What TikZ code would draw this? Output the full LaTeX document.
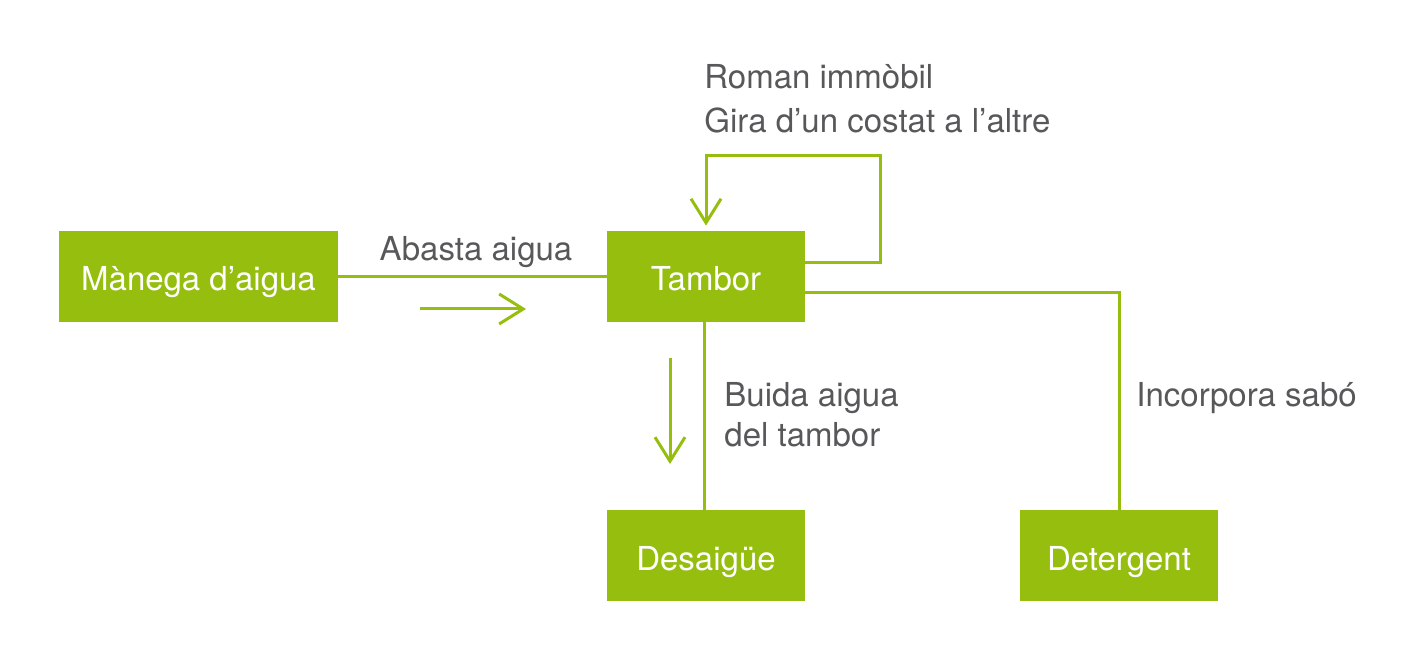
\documentclass[tikz,border=0pt]{standalone}
\usepackage{fontspec}
\setmainfont{TeX Gyre Heros}
\usepackage{tikz}
\usetikzlibrary{calc}
\usetikzlibrary{arrows.meta}
\usetikzlibrary{positioning}
\definecolor{lime}{HTML}{95BE0E}
\definecolor{txtgray}{HTML}{58585A}
\tikzset{>={Straight Barb[length=12pt, width=15pt]}}
\tikzset{box/.style = {fill=lime, draw=none, text=white, align=center, inner sep=0, minimum width=99pt, minimum height=45.5pt, text height=14.5pt, text depth=0pt, font=\fontsize{16.5}{20}\selectfont}}
\tikzset{lbl/.style = {draw=none, align=left, inner sep=0, anchor=west, text=txtgray, font=\fontsize{16.5}{20}\selectfont}}
\tikzset{link/.style = {-, lime, line width=1.5pt}}
\tikzset{dir/.style = {->, lime, line width=1.5pt}}

\begin{document}
\begin{tikzpicture}[x=0.5pt, y=-0.5pt]
\useasboundingbox (0,0) rectangle (1417,667);
%boxes
\node [box, minimum width=139.5pt] (Manega) at (198.5, 276.5) {Mànega d’aigua};
\node [box] (Tambor) at (706, 276.5) {Tambor};
\node [box] (Desaigue) at (706, 555.5) {Desaigüe};
\node [box] (Detergent) at (1119, 555.5) {Detergent};
%labels
\node [lbl, anchor=center] (Abasta) at (476, 252) {Abasta aigua};
\node [lbl] (Roman) at (704, 99) {Roman immòbil\\[2pt]Gira d’un costat a l’altre};
\node [lbl] (Buida) at (724, 415) {Buida aigua\\del tambor};
\node [lbl] (Sabo) at (1136, 398) {Incorpora sabó};
%direction arrows
\coordinate (inA) at (420, 309);
\coordinate (inB) at (526, 309);
\coordinate (outA) at (670, 358);
\coordinate (outB) at (670, 464);
\coordinate (loopC) at (706, 156);
\draw [link] (Manega) to (Tambor);
\draw [dir] (inA) to (inB);
\draw [link] (Tambor.south -| 704, 0) to (Desaigue.north -| 704, 0);
\draw [dir] (outA) to (outB);
\draw [dir, shorten >=2.5pt] ([yshift=6.75pt]Tambor.east) -- ++(75, 0) |- (loopC) -- (Tambor.north);
\draw [link] ([yshift=-8.25pt]Tambor.east) -| (Detergent.north);
\end{tikzpicture}
\end{document}
